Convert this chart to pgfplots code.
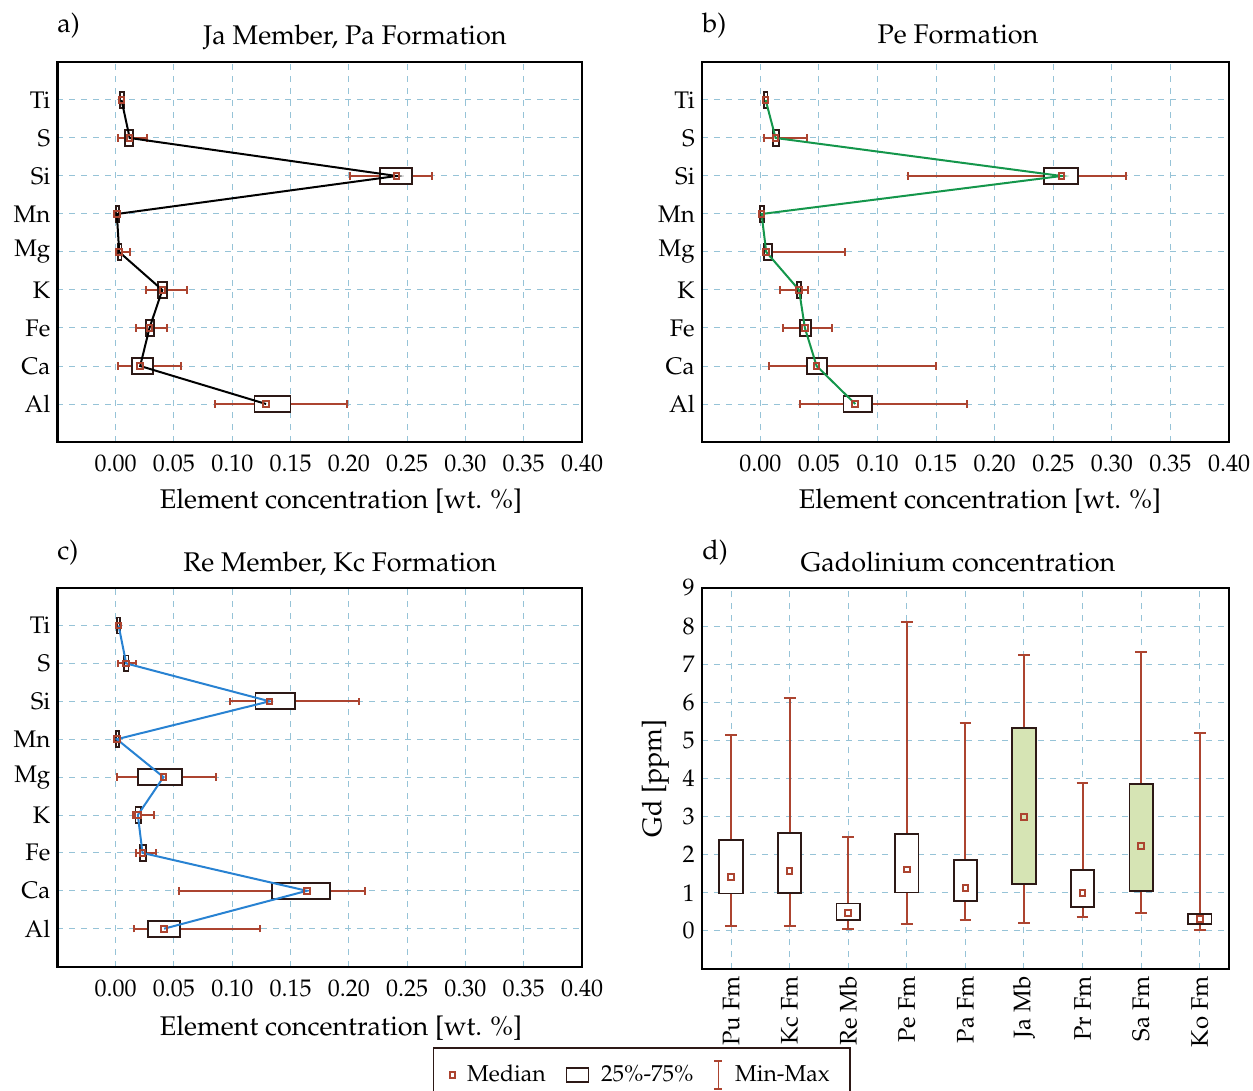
\documentclass[border=0pt]{standalone}
\usepackage[T1]{fontenc}
\usepackage{mathpazo}
\usepackage{pgfplots}
\pgfplotsset{compat=1.18}
\usepgfplotslibrary{statistics}
\definecolor{whc}{RGB}{172,68,48}
\definecolor{boxc}{RGB}{45,25,22}
\definecolor{grn}{RGB}{214,228,180}
\definecolor{gridc}{RGB}{150,195,215}
\definecolor{lgreen}{RGB}{20,150,75}
\definecolor{lblue}{RGB}{40,130,210}
\newcommand{\bp}[7][]{\addplot[#1, boxplot prepared={draw position=#2, lower whisker=#3, lower quartile=#4, median=#5, upper quartile=#6, upper whisker=#7}] coordinates {};}
\pgfplotsset{
  panel/.style={scale only axis, axis line style={line width=1.1pt, black},
    grid=major, major grid style={dashed, gridc, line width=0.5pt},
    major tick length=0pt,
    tick label style={font=\fontsize{12}{14}\selectfont},
    boxplot/every box/.style={draw=boxc, fill=white, line width=0.9pt},
    boxplot/every whisker/.style={draw=whc, line width=1pt},
    boxplot/every median/.style={draw=none},
    boxplot/whisker extend=0.2},
  hpanel/.style={panel, xmin=-0.05, xmax=0.40, ymin=0, ymax=10,
    xtick={0,0.05,0.10,0.15,0.20,0.25,0.30,0.35,0.40},
    ytick={1,2,3,4,5,6,7,8,9}, yticklabels={Al,Ca,Fe,K,Mg,Mn,Si,S,Ti},
    xticklabel style={/pgf/number format/fixed, /pgf/number format/fixed zerofill, /pgf/number format/precision=2, yshift=-3pt},
    boxplot/draw direction=x, boxplot/box extend=0.42},
  med/.style={only marks, mark=square, mark size=1.4pt, mark options={draw=whc, line width=1pt, fill=none}},
}
\begin{document}
\begin{tikzpicture}
\path[use as bounding box] (0,0) rectangle (626.5pt,-545.5pt);
% ---------- a ----------
\begin{axis}[hpanel, at={(28.7pt,-221pt)}, anchor=south west, width=262.3pt, height=190pt]
\bp{1}{0.085}{0.119}{0.129}{0.150}{0.198}
\bp{2}{0.002}{0.014}{0.021}{0.032}{0.056}
\bp{3}{0.017}{0.026}{0.029}{0.033}{0.044}
\bp{4}{0.026}{0.036}{0.040}{0.044}{0.061}
\bp{5}{0.001}{0.002}{0.003}{0.005}{0.012}
\bp{6}{0.000}{0.000}{0.001}{0.003}{0.004}
\bp{7}{0.201}{0.227}{0.241}{0.254}{0.271}
\bp{8}{0.002}{0.008}{0.012}{0.015}{0.027}
\bp{9}{0.004}{0.004}{0.005}{0.007}{0.007}
\addplot[black, line width=1pt] coordinates {(0.129,1) (0.021,2) (0.029,3) (0.040,4) (0.003,5) (0.001,6) (0.241,7) (0.012,8) (0.005,9)};
\addplot[med] coordinates {(0.129,1) (0.021,2) (0.029,3) (0.040,4) (0.003,5) (0.001,6) (0.241,7) (0.012,8) (0.005,9)};
\end{axis}
% ---------- b ----------
\begin{axis}[hpanel, at={(350.9pt,-221pt)}, anchor=south west, width=263.6pt, height=190pt]
\bp{1}{0.034}{0.071}{0.081}{0.095}{0.176}
\bp{2}{0.007}{0.040}{0.048}{0.057}{0.150}
\bp{3}{0.019}{0.034}{0.038}{0.043}{0.061}
\bp{4}{0.017}{0.031}{0.033}{0.035}{0.041}
\bp{5}{0.003}{0.003}{0.005}{0.010}{0.072}
\bp{6}{0.000}{0.000}{0.001}{0.003}{0.003}
\bp{7}{0.126}{0.242}{0.257}{0.271}{0.312}
\bp{8}{0.003}{0.011}{0.013}{0.016}{0.040}
\bp{9}{0.003}{0.003}{0.0045}{0.006}{0.006}
\addplot[lgreen, line width=1pt] coordinates {(0.081,1) (0.048,2) (0.038,3) (0.033,4) (0.005,5) (0.001,6) (0.257,7) (0.013,8) (0.0045,9)};
\addplot[med] coordinates {(0.081,1) (0.048,2) (0.038,3) (0.033,4) (0.005,5) (0.001,6) (0.257,7) (0.013,8) (0.0045,9)};
\end{axis}
% ---------- c ----------
\begin{axis}[hpanel, at={(28.7pt,-483.3pt)}, anchor=south west, width=262.3pt, height=189.5pt]
\bp{1}{0.016}{0.028}{0.0415}{0.055}{0.124}
\bp{2}{0.054}{0.134}{0.164}{0.184}{0.214}
\bp{3}{0.017}{0.021}{0.023}{0.026}{0.035}
\bp{4}{0.015}{0.017}{0.019}{0.022}{0.033}
\bp{5}{0.001}{0.019}{0.041}{0.057}{0.086}
\bp{6}{0.000}{0.000}{0.001}{0.003}{0.003}
\bp{7}{0.098}{0.120}{0.132}{0.154}{0.209}
\bp{8}{0.002}{0.007}{0.009}{0.011}{0.017}
\bp{9}{0.001}{0.001}{0.0025}{0.004}{0.004}
\addplot[lblue, line width=1pt] coordinates {(0.0415,1) (0.164,2) (0.023,3) (0.019,4) (0.041,5) (0.001,6) (0.132,7) (0.009,8) (0.0025,9)};
\addplot[med] coordinates {(0.0415,1) (0.164,2) (0.023,3) (0.019,4) (0.041,5) (0.001,6) (0.132,7) (0.009,8) (0.0025,9)};
\end{axis}
% ---------- d ----------
\begin{axis}[panel, at={(350.9pt,-484.5pt)}, anchor=south west, width=263.6pt, height=190.5pt,
  xmin=-0.5, xmax=8.5, ymin=-1, ymax=9,
  xtick={0,...,8}, xticklabels={Pu Fm,Kc Fm,Re Mb,Pe Fm,Pa Fm,Ja Mb,Pr Fm,Sa Fm,Ko Fm},
  xticklabel style={rotate=90, anchor=east},
  ytick={0,...,9},
  ylabel={Gd [ppm]}, ylabel style={font=\fontsize{13.5}{15}\selectfont},
  boxplot/draw direction=y,
  boxplot/box extend=0.4,
  legend columns=3,
  legend style={at={(-0.114,-0.205)}, anchor=north, draw=boxc, line width=0.8pt,
    inner ysep=6pt, inner xsep=8pt,
    font=\fontsize{11.5}{14}\selectfont,
    /tikz/every odd column/.append style={column sep=4pt},
    /tikz/every even column/.append style={column sep=8pt}},
  legend cell align=left]
\addlegendimage{med}
\addlegendentry{Median}
\addlegendimage{legend image code/.code={\draw[boxc, line width=0.8pt] (0pt,-3.5pt) rectangle (11pt,3.5pt);}}
\addlegendentry{25\%-75\%}
\addlegendimage{legend image code/.code={\draw[whc, line width=0.8pt] (3pt,-7pt) -- (3pt,7pt) (1pt,-7pt) -- (5pt,-7pt) (1pt,7pt) -- (5pt,7pt);}}
\addlegendentry{Min-Max}
\bp{0}{0.12}{0.98}{1.42}{2.39}{5.15}
\bp{1}{0.14}{1.00}{1.57}{2.56}{6.11}
\bp{2}{0.06}{0.28}{0.47}{0.72}{2.47}
\bp{3}{0.17}{1.01}{1.61}{2.54}{8.11}
\bp{4}{0.29}{0.79}{1.13}{1.86}{5.46}
\bp[boxplot/every box/.append style={fill=grn}]{5}{0.21}{1.24}{2.99}{5.32}{7.24}
\bp{6}{0.37}{0.63}{1.00}{1.60}{3.88}
\bp[boxplot/every box/.append style={fill=grn}]{7}{0.47}{1.05}{2.23}{3.85}{7.32}
\bp{8}{0.02}{0.18}{0.32}{0.44}{5.19}
\addplot[med] coordinates {(0,1.42) (1,1.57) (2,0.47) (3,1.61) (4,1.13) (5,2.99) (6,1.00) (7,2.23) (8,0.32)};
\end{axis}
% ---------- texts ----------
\begin{scope}[every node/.style={font=\fontsize{13.5}{15}\selectfont, inner sep=0pt}]
\node[anchor=base west] at (28.5pt,-16.5pt) {a)};
\node[anchor=base west] at (351pt,-16.5pt) {b)};
\node[anchor=base west] at (28.5pt,-279.5pt) {c)};
\node[anchor=base west] at (351pt,-279.5pt) {d)};
\node[anchor=base] at (177.5pt,-22.5pt) {Ja Member, Pa Formation};
\node[anchor=base] at (479pt,-22pt) {Pe Formation};
\node[anchor=base] at (170pt,-285.5pt) {Re Member, Kc Formation};
\node[anchor=base] at (479pt,-285.5pt) {Gadolinium concentration};
\node[anchor=base] at (170.5pt,-254pt) {Element concentration [wt. \%]};
\node[anchor=base] at (490pt,-254pt) {Element concentration [wt. \%]};
\node[anchor=base] at (170.5pt,-517.5pt) {Element concentration [wt. \%]};
\end{scope}
\end{tikzpicture}
\end{document}
